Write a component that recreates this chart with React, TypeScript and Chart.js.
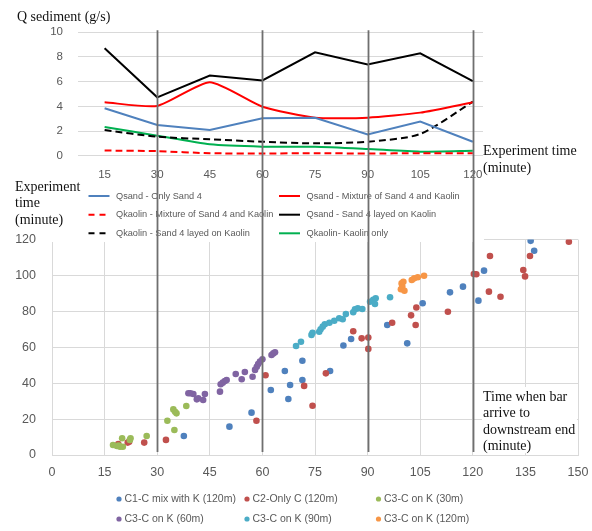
import React, { useEffect, useRef } from 'react';
import { Chart, registerables } from 'chart.js';
Chart.register(...registerables);

// ---------- Top chart data (Q sediment, g/s) ----------
const experimentTimes = [15, 30, 45, 60, 75, 90, 105, 120];
const qsandOnlySand4 = [3.84, 2.49, 2.08, 3.03, 3.08, 1.73, 2.76, 1.13];
const qsandMixture = [4.33, 4.03, 5.95, 3.97, 3.08, 3.08, 3.49, 4.33];
const qkaolinMixture = [0.42, 0.37, 0.2, 0.18, 0.2, 0.18, 0.2, 0.2];
const qsandLayered = [8.7, 4.73, 6.5, 6.1, 8.38, 7.4, 8.3, 6.05];
const qkaolinLayered = [2.08, 1.54, 1.33, 1.13, 1.0, 1.13, 1.76, 4.38];
const qkaolinOnly = [2.33, 1.62, 0.92, 0.73, 0.72, 0.54, 0.33, 0.41];
const qTicks = [0, 2, 4, 6, 8, 10];

// ---------- Bottom chart data (arrival time vs experiment time) ----------
const c1X = [37.6, 50.6, 56.9, 62.4, 66.4, 67.4, 67.9, 71.4, 71.4, 79.3, 83.1, 85.3, 95.6, 101.3, 105.7, 113.5, 117.2, 121.6, 123.2, 136.5, 137.5];
const c1Y = [10.6, 15.8, 23.6, 36.2, 46.8, 31.2, 39.0, 52.5, 41.8, 46.8, 61.0, 64.6, 72.4, 62.2, 84.5, 90.6, 93.8, 86.0, 102.7, 119.3, 113.8];
const c2X = [18.9, 21.6, 22.0, 26.3, 32.5, 58.3, 60.9, 71.9, 74.3, 78.1, 85.9, 88.3, 90.2, 90.2, 97.0, 102.4, 103.9, 103.7, 112.9, 120.3, 121.0, 124.6, 124.9, 127.9, 134.4, 134.9, 136.3, 147.4];
const c2Y = [6.1, 6.9, 7.4, 6.9, 8.4, 19.1, 44.4, 38.5, 27.4, 45.5, 68.9, 65.0, 65.4, 59.1, 73.7, 77.8, 82.2, 72.4, 79.8, 100.8, 100.7, 91.0, 110.9, 88.2, 103.1, 99.5, 110.9, 118.8];
const c3k30X = [17.4, 18.5, 19.0, 19.4, 20.2, 20.0, 22.2, 22.4, 27.0, 32.9, 34.6, 35.1, 35.5, 34.9, 38.3];
const c3k30Y = [5.6, 5.0, 5.3, 4.6, 4.6, 9.3, 8.4, 9.3, 10.6, 19.1, 25.4, 24.1, 23.2, 13.9, 27.3];
const c3k60X = [38.9, 39.5, 40.3, 41.3, 41.7, 43.1, 43.6, 47.9, 48.1, 48.7, 49.3, 49.8, 52.4, 54.1, 55.0, 57.2, 57.9, 58.4, 58.8, 59.3, 60.0, 62.6, 63.1, 63.6];
const c3k60Y = [34.4, 34.4, 34.0, 31.0, 31.6, 30.6, 34.0, 35.3, 39.4, 40.3, 41.2, 41.8, 45.1, 42.2, 46.2, 43.6, 47.4, 49.2, 50.7, 52.0, 53.3, 55.7, 56.6, 57.2];
const c3k90X = [69.6, 71.0, 74.0, 74.3, 76.2, 76.6, 77.2, 77.8, 79.1, 80.5, 81.9, 82.9, 83.8, 85.9, 86.4, 87.2, 88.5, 90.7, 91.6, 92.1, 92.3, 96.4];
const c3k90Y = [60.7, 63.1, 66.9, 68.1, 68.7, 70.0, 71.5, 72.8, 73.7, 74.8, 76.2, 75.6, 78.5, 79.5, 81.2, 81.7, 81.3, 85.4, 86.4, 84.1, 87.3, 87.9];
const c3k120X = [99.5, 99.7, 99.9, 100.2, 100.5, 102.6, 103.3, 104.3, 106.1];
const c3k120Y = [92.3, 95.6, 93.8, 96.5, 91.5, 97.5, 98.4, 99.0, 99.9];
const arrivalXTicks = [0, 15, 30, 45, 60, 75, 90, 105, 120, 135, 150];
const arrivalYTicks = [0, 20, 40, 60, 80, 100, 120];

// vertical guide lines (minutes)
const guideTimes = [30, 60, 90, 120];

const SANS = "'Liberation Sans', Arial, sans-serif";
const SERIF = "'Liberation Serif', 'Times New Roman', serif";
const TICK_COLOR = '#595959';
const GRID_COLOR = '#d9d9d9';

const lineSeries = [
  { label: 'Qsand - Only Sand 4', values: qsandOnlySand4, color: '#4F81BD', dash: [] as number[], tension: 0 },
  { label: 'Qsand - Mixture of Sand 4 and Kaolin', values: qsandMixture, color: '#FF0000', dash: [] as number[], tension: 0.2 },
  { label: 'Qkaolin - Mixture of Sand 4 and Kaolin', values: qkaolinMixture, color: '#FF0000', dash: [7, 4], tension: 0.2 },
  { label: 'Qsand - Sand 4 layed on Kaolin', values: qsandLayered, color: '#000000', dash: [] as number[], tension: 0 },
  { label: 'Qkaolin - Sand 4 layed on Kaolin', values: qkaolinLayered, color: '#000000', dash: [7, 4], tension: 0.25 },
  { label: 'Qkaolin- Kaolin only', values: qkaolinOnly, color: '#00B050', dash: [] as number[], tension: 0.2 },
];

const scatterSeries = [
  { label: 'C1-C mix with K (120m)', xs: c1X, ys: c1Y, color: '#4F81BD' },
  { label: 'C2-Only C (120m)', xs: c2X, ys: c2Y, color: '#C0504D' },
  { label: 'C3-C on K (30m)', xs: c3k30X, ys: c3k30Y, color: '#9BBB59' },
  { label: 'C3-C on K (60m)', xs: c3k60X, ys: c3k60Y, color: '#8064A2' },
  { label: 'C3-C on K (90m)', xs: c3k90X, ys: c3k90Y, color: '#4BACC6' },
  { label: 'C3-C on K (120m)', xs: c3k120X, ys: c3k120Y, color: '#F79646' },
];

function drawLines(ctx: CanvasRenderingContext2D, lines: string[], x: number, ys: number[], font: string, color: string) {
  ctx.font = font;
  ctx.fillStyle = color;
  ctx.textAlign = 'left';
  ctx.textBaseline = 'middle';
  lines.forEach((t, i) => ctx.fillText(t, x, ys[i]));
}

const fitX = (s: any) => { s.height = 30; s.paddingLeft = 0; s.paddingRight = 0; };
const fitY = (s: any) => { s.width = 40; s.paddingTop = 0; s.paddingBottom = 0; };

export default function App() {
  const refA = useRef<HTMLCanvasElement>(null);
  const refB = useRef<HTMLCanvasElement>(null);

  useEffect(() => {
    Chart.defaults.font.family = SANS;

    // ---------- Bottom scatter chart ----------
    const bottomLegendPlugin = {
      id: 'bottomLegend',
      afterDraw(chart: any) {
        const ctx = chart.ctx as CanvasRenderingContext2D;
        const cols = [119, 247, 378.5];
        const rows = [499, 519];
        ctx.save();
        ctx.font = `10.5px ${SANS}`;
        ctx.textBaseline = 'middle';
        ctx.textAlign = 'left';
        scatterSeries.forEach((s, i) => {
          const x = cols[i % 3];
          const y = rows[Math.floor(i / 3)];
          ctx.fillStyle = s.color;
          ctx.beginPath();
          ctx.arc(x, y, 2.6, 0, Math.PI * 2);
          ctx.fill();
          ctx.fillStyle = TICK_COLOR;
          ctx.fillText(s.label, x + 5.5, y);
        });
        ctx.restore();
      },
    };

    const a = new Chart(refA.current!, {
      type: 'scatter',
      data: {
        datasets: scatterSeries.map((s, i) => ({
          label: s.label,
          data: s.xs.map((x, k) => ({ x, y: s.ys[k] })),
          backgroundColor: s.color,
          borderColor: s.color,
          pointRadius: 3.3,
          pointBorderWidth: 0,
          pointHoverRadius: 3.3,
          showLine: false,
          order: scatterSeries.length - i,
        })),
      },
      options: {
        responsive: false,
        animation: false,
        layout: { padding: { left: 12, right: 14, top: 239.6, bottom: 46 } },
        plugins: { legend: { display: false }, tooltip: { enabled: false }, title: { display: false } },
        scales: {
          x: {
            type: 'linear',
            min: 0,
            max: 150,
            afterBuildTicks: (s: any) => { s.ticks = arrivalXTicks.map((v) => ({ value: v })); },
            afterFit: fitX,
            ticks: { color: TICK_COLOR, font: { size: 12.5, family: SANS }, padding: 10.5, maxRotation: 0, autoSkip: false },
            grid: { color: GRID_COLOR, drawTicks: false, lineWidth: 1 },
            border: { display: true, color: GRID_COLOR },
          },
          y: {
            type: 'linear',
            min: 0,
            max: 120,
            afterBuildTicks: (s: any) => { s.ticks = arrivalYTicks.map((v) => ({ value: v })); },
            afterFit: fitY,
            ticks: { color: TICK_COLOR, font: { size: 12.5, family: SANS }, padding: 16 },
            grid: { color: GRID_COLOR, drawTicks: false, lineWidth: 1 },
            border: { display: false },
          },
        },
      },
      plugins: [bottomLegendPlugin],
    } as any);

    // ---------- Top line chart ----------
    const overlayPlugin = {
      id: 'overlayTop',
      beforeDraw(chart: any) {
        const ctx = chart.ctx as CanvasRenderingContext2D;
        ctx.save();
        ctx.fillStyle = '#ffffff';
        ctx.fillRect(44, 0, 440, 242);
        ctx.restore();
      },
      afterDraw(chart: any) {
        const ctx = chart.ctx as CanvasRenderingContext2D;
        ctx.save();
        // title
        drawLines(ctx, ['Q sediment (g/s)'], 17, [17], `14px ${SERIF}`, '#111');
        // x axis title of top chart
        drawLines(ctx, ['Experiment time', '(minute)'], 483, [151, 168], `14px ${SERIF}`, '#111');
        // y axis title of bottom chart
        drawLines(ctx, ['Experiment', 'time', '(minute)'], 15, [187, 203.5, 220], `14px ${SERIF}`, '#111');
        // x axis title of bottom chart, with white box
        ctx.fillStyle = '#ffffff';
        ctx.fillRect(482, 387, 95, 66);
        drawLines(ctx, ['Time when bar', 'arrive to', 'downstream end', '(minute)'], 483, [397, 413.5, 430, 446.5], `14px ${SERIF}`, '#111');

        // legend of top chart
        const cols = [88.5, 279];
        const rows = [196, 214.7, 233.3];
        ctx.font = `9.2px ${SANS}`;
        ctx.textBaseline = 'middle';
        ctx.textAlign = 'left';
        lineSeries.forEach((s, i) => {
          const x = cols[i % 2];
          const y = rows[Math.floor(i / 2)];
          ctx.strokeStyle = s.color;
          ctx.lineWidth = 2;
          ctx.setLineDash(s.dash.length ? [6, 5] : []);
          ctx.beginPath();
          ctx.moveTo(x, y);
          ctx.lineTo(x + 21, y);
          ctx.stroke();
          ctx.setLineDash([]);
          ctx.fillStyle = TICK_COLOR;
          ctx.fillText(s.label, x + 27.5, y);
        });

        // vertical guide lines through both charts
        const top = chart.chartArea.top - 2;
        const bottom = a.chartArea.bottom - 3;
        ctx.strokeStyle = '#6f6f6f';
        ctx.lineWidth = 1.8;
        guideTimes.forEach((t) => {
          const x = Math.round(a.scales.x.getPixelForValue(t)) + 0.5;
          ctx.beginPath();
          ctx.moveTo(x, top);
          ctx.lineTo(x, bottom);
          ctx.stroke();
        });
        ctx.restore();
      },
    };

    const b = new Chart(refB.current!, {
      type: 'line',
      data: {
        datasets: lineSeries.map((s) => ({
          label: s.label,
          data: experimentTimes.map((t, k) => ({ x: t, y: s.values[k] })),
          borderColor: s.color,
          backgroundColor: s.color,
          borderDash: s.dash,
          borderWidth: 2,
          pointRadius: 0,
          pointHoverRadius: 0,
          tension: s.tension,
          fill: false,
        })),
      },
      options: {
        responsive: false,
        animation: false,
        layout: { padding: { left: 38, right: 109, top: 32.3, bottom: 345.3 } },
        plugins: { legend: { display: false }, tooltip: { enabled: false }, title: { display: false } },
        scales: {
          x: {
            type: 'linear',
            min: 7.41,
            max: 122.9,
            afterBuildTicks: (s: any) => { s.ticks = experimentTimes.map((v) => ({ value: v })); },
            afterFit: fitX,
            ticks: { color: TICK_COLOR, font: { size: 11.5, family: SANS }, padding: 12.4, maxRotation: 0, autoSkip: false },
            grid: { display: false, drawTicks: false },
            border: { display: false },
          },
          y: {
            type: 'linear',
            min: 0,
            max: 10,
            afterBuildTicks: (s: any) => { s.ticks = qTicks.map((v) => ({ value: v })); },
            afterFit: fitY,
            ticks: { color: TICK_COLOR, font: { size: 11.5, family: SANS }, padding: 15 },
            grid: { color: GRID_COLOR, drawTicks: false, lineWidth: 1 },
            border: { display: false },
          },
        },
      },
      plugins: [overlayPlugin],
    } as any);

    return () => {
      b.destroy();
      a.destroy();
    };
  }, []);

  const canvasStyle: React.CSSProperties = { position: 'absolute', left: 0, top: 0, width: 592, height: 531 };
  return (
    <div style={{ position: 'fixed', left: 0, top: 0, width: 592, height: 531, background: '#ffffff', overflow: 'hidden' }}>
      <canvas ref={refA} width={592} height={531} style={canvasStyle} />
      <canvas ref={refB} width={592} height={531} style={canvasStyle} />
    </div>
  );
}
